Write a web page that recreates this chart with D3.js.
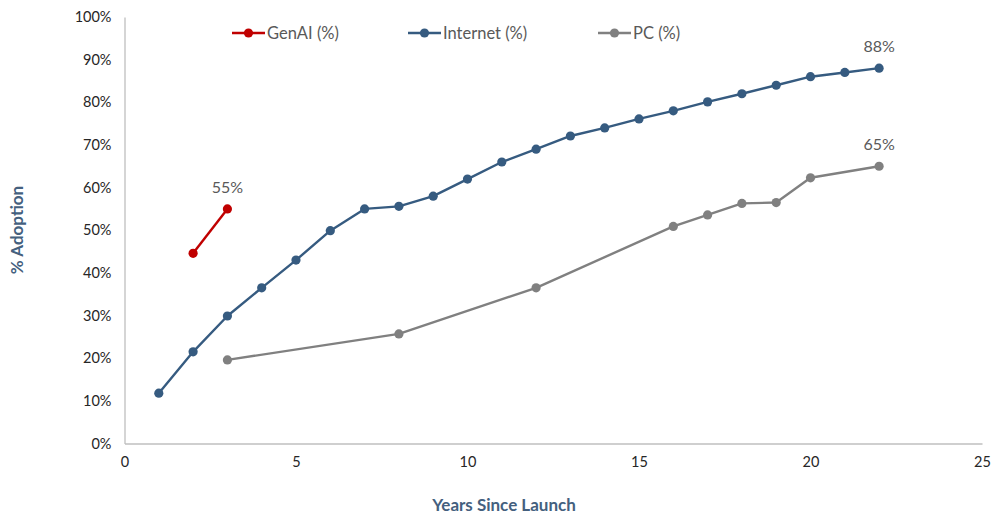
<!DOCTYPE html>
<html>
<head>
<meta charset="utf-8">
<script src="https://cdn.jsdelivr.net/npm/d3@7"></script>
<style>
  html, body { margin: 0; padding: 0; background: #fff; }
  svg { display: block; font-family: Lato, "Open Sans", sans-serif; }
</style>
</head>
<body>
<svg id="chart" width="992" height="515"></svg>
<script>
// Adoption (%) by years since launch
const genaiYears = [2, 3];
const genaiValues = [44.6, 55];

const internetYears = [1, 2, 3, 4, 5, 6, 7, 8, 9, 10, 11, 12, 13, 14, 15, 16, 17, 18, 19, 20, 21, 22];
const internetValues = [11.8, 21.5, 29.9, 36.5, 43.0, 49.9, 55.0, 55.6, 58.0, 62.0, 66.0, 69.0, 72.1, 74.0, 76.1, 78.0, 80.1, 82.0, 84.0, 86.0, 87.0, 88];

const pcYears = [3, 8, 12, 16, 17, 18, 19, 20, 22];
const pcValues = [19.6, 25.7, 36.5, 50.9, 53.6, 56.3, 56.5, 62.3, 65];

const xTicks = [0, 5, 10, 15, 20, 25];
const yTicks = [0, 10, 20, 30, 40, 50, 60, 70, 80, 90, 100];

const seriesNames = ["GenAI (%)", "Internet (%)", "PC (%)"];
const seriesColors = ["#C00000", "#365B80", "#808080"];

const series = [
  { name: seriesNames[0], color: seriesColors[0], pts: genaiYears.map((x, i) => ({ x, y: genaiValues[i] })) },
  { name: seriesNames[1], color: seriesColors[1], pts: internetYears.map((x, i) => ({ x, y: internetValues[i] })) },
  { name: seriesNames[2], color: seriesColors[2], pts: pcYears.map((x, i) => ({ x, y: pcValues[i] })) }
];

const svg = d3.select("#chart");
const plot = { left: 124.5, right: 982, top: 17, bottom: 443.5 };

const x = d3.scaleLinear().domain([0, 25]).range([plot.left, plot.right]);
const y = d3.scaleLinear().domain([0, 100]).range([plot.bottom, plot.top]);

// Axes
const xAxis = svg.append("g")
  .attr("transform", `translate(0,${plot.bottom})`)
  .call(d3.axisBottom(x).tickValues(xTicks).tickSize(0).tickPadding(13).tickFormat(d3.format("d")));
const yAxis = svg.append("g")
  .attr("transform", `translate(${plot.left},0)`)
  .call(d3.axisLeft(y).tickValues(yTicks).tickSize(0).tickPadding(13).tickFormat(d => d + "%"));

[xAxis, yAxis].forEach(g => {
  g.select(".domain").attr("stroke", "#BFBFBF").attr("stroke-width", 1.3);
  g.selectAll("text").attr("fill", "#262626").attr("font-size", 14.5)
    .attr("font-family", "Lato, sans-serif");
});

// Axis titles
svg.append("text")
  .attr("x", 504).attr("y", 511)
  .attr("text-anchor", "middle")
  .attr("font-size", 17).attr("font-weight", "bold")
  .attr("fill", "#44607E")
  .text("Years Since Launch");

svg.append("text")
  .attr("transform", "translate(23,230) rotate(-90)")
  .attr("text-anchor", "middle")
  .attr("font-size", 17).attr("font-weight", "bold")
  .attr("fill", "#44607E")
  .text("% Adoption");

// Lines and markers
const line = d3.line().x(d => x(d.x)).y(d => y(d.y));
series.forEach(s => {
  const g = svg.append("g");
  g.append("path")
    .datum(s.pts)
    .attr("d", line)
    .attr("fill", "none")
    .attr("stroke", s.color)
    .attr("stroke-width", 2.4)
    .attr("stroke-linejoin", "round");
  g.selectAll("circle")
    .data(s.pts)
    .join("circle")
    .attr("cx", d => x(d.x))
    .attr("cy", d => y(d.y))
    .attr("r", 4.6)
    .attr("fill", s.color);
});

// End-point value labels
series.forEach(s => {
  const last = s.pts[s.pts.length - 1];
  svg.append("text")
    .attr("x", x(last.x))
    .attr("y", y(last.y) - 16)
    .attr("text-anchor", "middle")
    .attr("font-size", 16)
    .attr("fill", "#595959")
    .text(Math.round(last.y) + "%");
});

// Legend
const legendX = [232, 408, 598];
series.forEach((s, i) => {
  const g = svg.append("g").attr("transform", `translate(${legendX[i]},33)`);
  g.append("line").attr("x1", 0).attr("x2", 33).attr("y1", 0).attr("y2", 0)
    .attr("stroke", s.color).attr("stroke-width", 2.4);
  g.append("circle").attr("cx", 16.5).attr("cy", 0).attr("r", 4.6).attr("fill", s.color);
  g.append("text").attr("x", 35).attr("y", 6)
    .attr("font-size", 16.5).attr("fill", "#595959")
    .text(s.name);
});
</script>
</body>
</html>
